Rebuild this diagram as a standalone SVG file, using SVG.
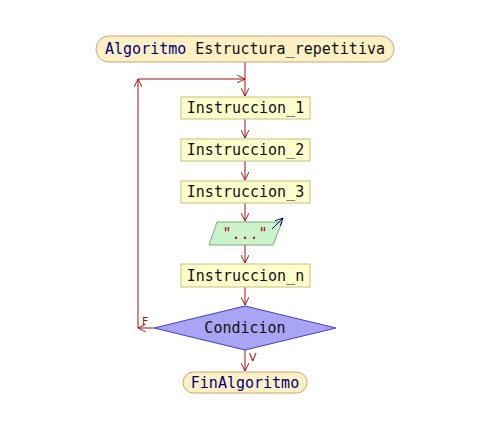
<svg xmlns="http://www.w3.org/2000/svg" width="477" height="445" viewBox="0 0 477 445">
<defs>
<style>
.t{font-family:"DejaVu Sans Mono","Liberation Mono",monospace;font-size:15px;text-anchor:middle;fill:#111111;}
.term{fill:#fdf0c4;stroke:#c8a870;stroke-width:1;}
.box{fill:#ffffcc;stroke:#c8c07a;stroke-width:1;}
.c{fill:none;stroke:#a01010;stroke-width:1;}
.kw{fill:#000080;}
.lbl{font-family:"DejaVu Sans","Liberation Sans",sans-serif;font-size:11px;fill:#a01010;}
</style>
<marker id="ah" viewBox="0 0 10 10" refX="10" refY="5" markerWidth="8" markerHeight="8" markerUnits="userSpaceOnUse" orient="auto">
<path d="M0,0 L10,5 L0,10" fill="none" stroke="#a01010" stroke-width="1.2"/>
</marker>
<marker id="bh" viewBox="0 0 10 10" refX="10" refY="5" markerWidth="8" markerHeight="8" markerUnits="userSpaceOnUse" orient="auto">
<path d="M0,0 L10,5 L0,10" fill="none" stroke="#000080" stroke-width="1.2"/>
</marker>
</defs>
<rect width="477" height="445" fill="#ffffff"/>
<g id="connectors">
<line class="c" x1="245" y1="62" x2="245" y2="96" marker-end="url(#ah)"/>
<line class="c" x1="245" y1="119" x2="245" y2="138" marker-end="url(#ah)"/>
<line class="c" x1="245" y1="161" x2="245" y2="180" marker-end="url(#ah)"/>
<line class="c" x1="245" y1="203" x2="245" y2="221" marker-end="url(#ah)"/>
<line class="c" x1="245" y1="245" x2="245" y2="263" marker-end="url(#ah)"/>
<line class="c" x1="245" y1="287" x2="245" y2="305" marker-end="url(#ah)"/>
<line class="c" x1="245" y1="350" x2="245" y2="371" marker-end="url(#ah)"/>
<line class="c" x1="154" y1="328" x2="138" y2="328" marker-end="url(#ah)"/>
<line class="c" x1="138" y1="328" x2="138" y2="79" marker-end="url(#ah)"/>
<line class="c" x1="138" y1="79" x2="245" y2="79" marker-end="url(#ah)"/>
<text class="lbl" x="142" y="325">F</text>
<text class="lbl" x="249" y="361">V</text>
</g>
<g id="start">
<rect class="term" x="96" y="36" width="298" height="26" rx="13" ry="13"/>
<text class="t" x="245" y="54"><tspan class="kw">Algoritmo</tspan> Estructura_repetitiva</text>
</g>
<g id="instr1">
<rect class="box" x="181" y="97" width="129" height="22"/>
<text class="t" x="245.5" y="113">Instruccion_1</text>
</g>
<g id="instr2">
<rect class="box" x="181" y="139" width="129" height="22"/>
<text class="t" x="245.5" y="155">Instruccion_2</text>
</g>
<g id="instr3">
<rect class="box" x="181" y="181" width="129" height="22"/>
<text class="t" x="245.5" y="197">Instruccion_3</text>
</g>
<g id="output">
<polygon points="217,222 282,222 273,245 209,245" fill="#ccf2cc" stroke="#70b070" stroke-width="1"/>
<text class="t" x="245" y="239" style="fill:#a01010">"..."</text>
<line x1="272" y1="229" x2="283" y2="218" stroke="#000080" stroke-width="1" marker-end="url(#bh)"/>
</g>
<g id="instrn">
<rect class="box" x="181" y="264" width="129" height="23"/>
<text class="t" x="245.5" y="280.5">Instruccion_n</text>
</g>
<g id="cond">
<polygon points="245,306 336,328 245,350 154,328" fill="#aaa4f4" stroke="#4040c0" stroke-width="1"/>
<text class="t" x="245" y="333">Condicion</text>
</g>
<g id="end">
<rect class="term" x="183" y="372" width="124" height="21" rx="10.5" ry="10.5"/>
<text class="t kw" x="245" y="387.5" style="fill:#000080">FinAlgoritmo</text>
</g>
</svg>
